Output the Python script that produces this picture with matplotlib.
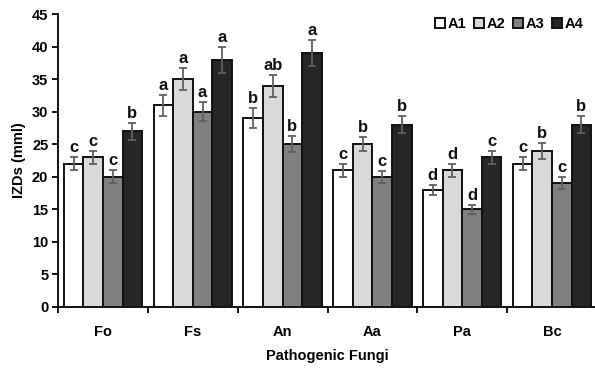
import matplotlib
matplotlib.use("Agg")
import matplotlib.pyplot as plt
import numpy as np

plt.rcParams['font.family'] = ['Liberation Sans', 'DejaVu Sans']
plt.rcParams['font.weight'] = 'bold'

categories = ["Fo", "Fs", "An", "Aa", "Pa", "Bc"]
series_names = ["A1", "A2", "A3", "A4"]
A1 = [22, 31, 29, 21, 18, 22]
A2 = [23, 35, 34, 25, 21, 24]
A3 = [20, 30, 25, 20, 15, 19]
A4 = [27, 38, 39, 28, 23, 28]
A1_err = [1.0, 1.6, 1.5, 1.0, 0.8, 1.0]
A2_err = [1.0, 1.7, 1.7, 1.1, 1.0, 1.2]
A3_err = [1.0, 1.5, 1.2, 0.9, 0.7, 0.9]
A4_err = [1.3, 2.0, 2.0, 1.3, 1.0, 1.3]
A1_let = ["c", "a", "b", "c", "d", "c"]
A2_let = ["c", "a", "ab", "b", "d", "b"]
A3_let = ["c", "a", "b", "c", "d", "c"]
A4_let = ["b", "a", "a", "b", "c", "b"]

values = [A1, A2, A3, A4]
errors = [A1_err, A2_err, A3_err, A4_err]
letters = [A1_let, A2_let, A3_let, A4_let]
colors = ["#ffffff", "#d9d9d9", "#808080", "#262626"]

fig = plt.figure(figsize=(5.95, 3.69), dpi=100)
ax = fig.add_axes([58/595, 62/369, 539/595, 293/369])

x = np.arange(len(categories))
w = 0.218
offsets = (np.arange(4) - 1.5) * w
for i in range(4):
    ax.bar(x + offsets[i], values[i], w, color=colors[i], edgecolor="#111111",
           linewidth=1.4, yerr=errors[i], ecolor="#606060",
           error_kw=dict(elinewidth=1.3, capsize=3, capthick=1.3),
           label=series_names[i], zorder=2)
    for j in range(len(categories)):
        ax.text(x[j] + offsets[i], values[i][j] + errors[i][j] + 0.3, letters[i][j],
                ha="center", va="bottom", fontsize=12, fontweight="bold", color="#111111")

ax.set_xlim(-0.5, len(categories) - 0.5)
ax.set_ylim(0, 45)
ax.set_yticks(range(0, 46, 5))
ax.set_xticks(np.arange(-0.5, len(categories), 1.0))
ax.set_xticklabels([])
ax.set_xticks(x, minor=True)
ax.set_xticklabels(categories, minor=True)
ax.tick_params(axis="x", which="minor", length=0, pad=13, labelsize=10.5)
ax.tick_params(axis="x", which="major", length=4, width=1.3, direction="out")
ax.tick_params(axis="y", length=4, width=1.3, direction="out", labelsize=10.5, pad=3)
for lab in ax.get_yticklabels() + ax.get_xticklabels(minor=True):
    lab.set_fontweight("bold")
for s in ["top", "right"]:
    ax.spines[s].set_visible(False)
for s in ["left", "bottom"]:
    ax.spines[s].set_linewidth(1.4)
    ax.spines[s].set_color("#111111")

ax.set_ylabel("IZDs (mml)", fontsize=10.5, fontweight="bold", labelpad=4)
ax.set_xlabel("Pathogenic Fungi", fontsize=10.5, fontweight="bold", labelpad=7)

leg = ax.legend(loc="upper right", bbox_to_anchor=(1.0, 1.035), ncol=4, frameon=False,
                handlelength=0.7, handleheight=0.7, handletextpad=0.2, columnspacing=0.5,
                prop=dict(weight="bold", size=10.5))

fig.savefig("out.png", dpi=100)
